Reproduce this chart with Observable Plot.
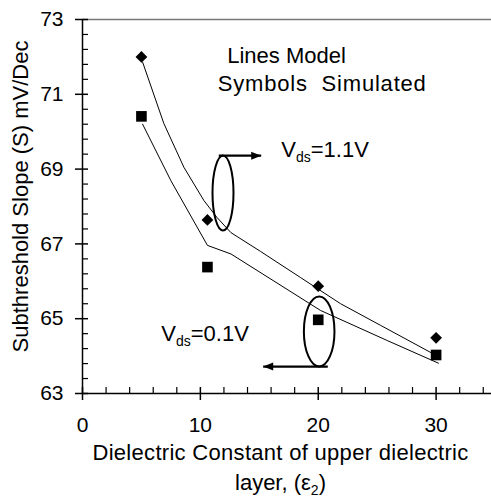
<!DOCTYPE html>
<html><head><meta charset="utf-8">
<script src="https://cdn.jsdelivr.net/npm/d3@7"></script>
<script src="https://cdn.jsdelivr.net/npm/@observablehq/plot@0.6"></script>
<style>body{margin:0;background:#fff}</style>
</head><body><div id="chart"></div>
<script>
// Simulated (symbols)
const simX = [5, 10.6, 20, 30];
const simHigh = [72.0, 67.64, 65.87, 64.49];   // Vds = 1.1 V (diamonds)
const simLow = [70.41, 66.38, 64.97, 64.03];   // Vds = 0.1 V (squares)
// Model (lines)
const modelHighX = [5.1, 6.9, 8.6, 10.3, 11.4, 12.6, 15.1, 18.5, 21.9, 25.3, 29.7];
const modelHighY = [71.86, 70.22, 69.05, 68.16, 67.71, 67.30, 66.80, 66.10, 65.40, 64.82, 64.07];
const modelLowX = [5.1, 7.5, 10.6, 12.6, 20.2, 25.9, 30.2];
const modelLowY = [70.2, 68.69, 66.96, 66.73, 65.22, 64.41, 63.81];
// Ticks
const xTicks = [0, 10, 20, 30];
const xMinor = [2, 4, 6, 8, 12, 14, 16, 18, 22, 24, 26, 28, 32, 34];
const yTicks = [63, 65, 67, 69, 71, 73];
const yMinor = [63.4, 63.8, 64.2, 64.6, 65.4, 65.8, 66.2, 66.6, 67.4, 67.8, 68.2, 68.6, 69.4, 69.8, 70.2, 70.6, 71.4, 71.8, 72.2, 72.6];
// Annotations
const noteText = ["Lines Model", "Symbols\u00a0 Simulated", "Vds=1.1V", "Vds=0.1V"];
const noteX = [12.28, 11.48, 16.86, 6.68];
const noteY = [72.02, 71.28, 69.52, 64.58];
const ellipseX = [11.92, 20.08];
const ellipseY = [68.36, 64.66];
const arrowX1 = [11.56, 20.81];
const arrowX2 = [15.16, 15.33];
const arrowY = [69.36, 63.72];
const xLabel1 = "Dielectric Constant of upper dielectric";
const xLabel2 = "layer, (ε2)";
const yLabel = "Subthreshold Slope (S) mV/Dec";

const high = simX.map((x, i) => ({x, y: simHigh[i]}));
const low = simX.map((x, i) => ({x, y: simLow[i]}));
const mHigh = modelHighX.map((x, i) => ({x, y: modelHighY[i]}));
const mLow = modelLowX.map((x, i) => ({x, y: modelLowY[i]}));
const notes = noteText.map((t, i) => ({t, x: noteX[i], y: noteY[i]}));
const arrows = arrowX1.map((x1, i) => ({x1, x2: arrowX2[i], y: arrowY[i]}));

function ellipseSymbol(rx, ry) {
  const k = 0.5523;
  return {draw(c) {
    c.moveTo(rx, 0);
    c.bezierCurveTo(rx, ry * k, rx * k, ry, 0, ry);
    c.bezierCurveTo(-rx * k, ry, -rx, ry * k, -rx, 0);
    c.bezierCurveTo(-rx, -ry * k, -rx * k, -ry, 0, -ry);
    c.bezierCurveTo(rx * k, -ry, rx, -ry * k, rx, 0);
    c.closePath();
  }};
}
function headSymbol(dir) {
  return {draw(c) {
    c.moveTo(0, 0);
    c.lineTo(-10 * dir, -4);
    c.lineTo(-10 * dir, 4);
    c.closePath();
  }};
}

const W = 491, H = 497, mL = 82, mR = 0, mT = 19, mB = 104;
const fw = W - mL - mR, fh = H - mT - mB;

const chart = Plot.plot({
  width: W, height: H,
  marginLeft: mL, marginRight: mR, marginTop: mT, marginBottom: mB,
  x: {domain: [0, 34.7]},
  y: {domain: [63, 73]},
  style: {fontFamily: "'Liberation Sans', Arial, sans-serif", background: "white", color: "black"},
  marks: [
    Plot.ruleY([73], {stroke: "#777", strokeWidth: 1.5}),
    Plot.ruleX([0], {stroke: "black", strokeWidth: 1.5}),
    Plot.ruleY([63], {stroke: "black", strokeWidth: 1.5}),
    Plot.tickX(xMinor, {x: d => d, insetTop: fh - 6, stroke: "black", strokeWidth: 1.2}),
    Plot.tickX(xTicks, {x: d => d, insetTop: fh - 6, insetBottom: -7, stroke: "black", strokeWidth: 1.5}),
    Plot.tickY(yMinor, {y: d => d, insetRight: fw - 6, stroke: "black", strokeWidth: 1.2}),
    Plot.tickY(yTicks, {y: d => d, insetRight: fw - 6, insetLeft: -7, stroke: "black", strokeWidth: 1.5}),
    Plot.axisX({ticks: xTicks, tickSize: 0, tickPadding: 24, fontSize: 21, label: null}),
    Plot.axisY({ticks: yTicks, tickSize: 0, tickPadding: 19, fontSize: 21, label: null}),
    Plot.line(mHigh, {x: "x", y: "y", stroke: "black", strokeWidth: 1}),
    Plot.line(mLow, {x: "x", y: "y", stroke: "black", strokeWidth: 1}),
    Plot.dot(high, {x: "x", y: "y", symbol: "diamond2", r: 5.3, fill: "black", stroke: "none"}),
    Plot.dot(low, {x: "x", y: "y", symbol: "square", r: 6, fill: "black", stroke: "none"}),
    Plot.dot([0], {x: () => ellipseX[0], y: () => ellipseY[0], symbol: ellipseSymbol(10.5, 37.5), fill: "none", stroke: "black", strokeWidth: 2}),
    Plot.dot([0], {x: () => ellipseX[1], y: () => ellipseY[1], symbol: ellipseSymbol(15.3, 35), fill: "none", stroke: "black", strokeWidth: 2}),
    Plot.link(arrows, {x1: "x1", x2: "x2", y1: "y", y2: "y", stroke: "black", strokeWidth: 2.2}),
    Plot.dot([arrows[0]], {x: "x2", y: "y", symbol: headSymbol(1), fill: "black", stroke: "none"}),
    Plot.dot([arrows[1]], {x: "x2", y: "y", symbol: headSymbol(-1), fill: "black", stroke: "none"}),
    Plot.text(notes, {x: "x", y: "y", text: "t", textAnchor: "start", fontSize: 22, fill: "black"}),
    Plot.text([xLabel1], {frameAnchor: "bottom", textAnchor: "middle", lineAnchor: "top", dy: 51, dx: -6.5, fontSize: 22, fill: "black"}),
    Plot.text([xLabel2], {frameAnchor: "bottom", textAnchor: "middle", lineAnchor: "top", dy: 81, dx: -6.5, fontSize: 22, fill: "black"}),
    Plot.text([yLabel], {frameAnchor: "left", textAnchor: "middle", rotate: -90, dx: -61.5, dy: -10, fontSize: 22, fill: "black"})
  ]
});

function subscript(el, before, sub, after, size, shift) {
  const t = d3.select(el);
  t.text(null);
  t.append("tspan").text(before);
  t.append("tspan").attr("font-size", size).attr("dy", shift).text(sub);
  t.append("tspan").attr("dy", -shift).text(after);
}
d3.select(chart).selectAll("text").each(function() {
  const s = this.textContent;
  if (s === "Vds=1.1V") subscript(this, "V", "ds", "=1.1V", 14, 5);
  else if (s === "Vds=0.1V") subscript(this, "V", "ds", "=0.1V", 14, 5);
  else if (s === xLabel2) subscript(this, "layer, (ε", "2", ")", 14, 5);
  else if (s === xLabel1) d3.select(this).attr("letter-spacing", 0.3);
  else if (s === noteText[1]) d3.select(this).attr("letter-spacing", 0.8);
});
document.getElementById("chart").appendChild(chart);
</script>
</body></html>
